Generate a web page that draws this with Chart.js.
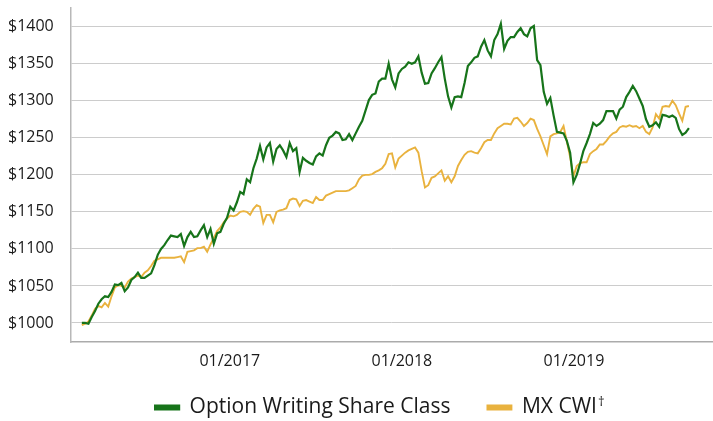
<!DOCTYPE html>
<html>
<head>
<meta charset="utf-8">
<script src="https://cdn.jsdelivr.net/npm/chart.js@4.4.0/dist/chart.umd.min.js"></script>
<style>
  html, body { margin: 0; padding: 0; background: #fff; }
  #wrap { width: 713px; height: 421px; }
</style>
</head>
<body>
<div id="wrap"><canvas id="chart"></canvas></div>
<script>
// weekly growth of $1000, first week and series values
const firstWeek = '2016-02-22';
const seriesNames = ['Option Writing Share Class', 'MX CWI'];
const seriesMarks = ['', '\u2020'];
const seriesColors = ['#17741a', '#e9b23e'];

const optionWriting = [
  1000, 1000, 999, 1008, 1016, 1026, 1032, 1036, 1035, 1042,
  1052, 1051, 1054, 1043, 1048, 1058, 1062, 1068, 1061, 1061,
  1064, 1067, 1078, 1092, 1100, 1105, 1112, 1118, 1117, 1116,
  1120, 1104, 1116, 1123, 1116, 1117, 1125, 1132, 1116, 1127,
  1107, 1121, 1123, 1134, 1142, 1157, 1152, 1163, 1177, 1174,
  1194, 1190, 1209, 1222, 1239, 1221, 1237, 1243, 1218, 1235,
  1240, 1233, 1224, 1243, 1232, 1236, 1204, 1223, 1219, 1216,
  1214, 1225, 1229, 1226, 1240, 1250, 1253, 1258, 1256, 1247,
  1248, 1255, 1247, 1256, 1265, 1273, 1287, 1301, 1308, 1310,
  1326, 1330, 1330, 1350, 1329, 1318, 1337, 1343, 1346, 1352,
  1350, 1352, 1360, 1338, 1323, 1324, 1337, 1344, 1352, 1359,
  1330, 1306, 1291, 1305, 1306, 1305, 1324, 1347, 1352, 1358,
  1360, 1373, 1382, 1368, 1360, 1382, 1390, 1404, 1370, 1381,
  1386, 1386, 1393, 1398, 1390, 1387, 1398, 1401, 1355, 1348,
  1312, 1296, 1304, 1280, 1258, 1257, 1256, 1246, 1230, 1190,
  1200, 1215, 1232, 1243, 1255, 1270, 1266, 1269, 1274, 1286,
  1286, 1286, 1276, 1288, 1292, 1305, 1312, 1320, 1313, 1303,
  1293, 1275, 1265, 1267, 1271, 1265, 1281, 1280, 1278, 1280,
  1277, 1262, 1254, 1257, 1263
];

const mxCwi = [
  997, 999, 1002, 1010, 1019, 1023, 1021, 1027, 1022, 1036,
  1048, 1051, 1050, 1048, 1056, 1060, 1062, 1064, 1062, 1068,
  1071, 1077, 1084, 1086, 1088, 1088, 1088, 1088, 1088, 1089,
  1090, 1082, 1096, 1097, 1098, 1101, 1101, 1103, 1096, 1106,
  1115, 1124, 1129, 1136, 1141, 1145, 1144, 1146, 1150, 1151,
  1150, 1146, 1154, 1159, 1157, 1135, 1146, 1146, 1136, 1150,
  1152, 1153, 1155, 1166, 1168, 1167, 1158, 1165, 1166, 1164,
  1162, 1170, 1166, 1166, 1172, 1174, 1176, 1178, 1178, 1178,
  1178, 1179, 1182, 1185, 1194, 1199, 1200, 1200, 1201, 1204,
  1206, 1209, 1215, 1228, 1229, 1210, 1222, 1226, 1230, 1233,
  1235, 1237, 1230, 1205, 1183, 1186, 1196, 1198, 1202, 1206,
  1192, 1198, 1190, 1198, 1212, 1220, 1227, 1231, 1232, 1230,
  1229, 1236, 1244, 1247, 1247, 1256, 1263, 1266, 1269, 1269,
  1268, 1276, 1277, 1272, 1266, 1270, 1276, 1274, 1262, 1252,
  1240, 1228, 1252, 1255, 1256, 1258, 1266, 1245, 1224, 1198,
  1212, 1216, 1217, 1217, 1228, 1232, 1235, 1241, 1241, 1246,
  1252, 1256, 1258, 1264, 1266, 1265, 1267, 1265, 1266, 1263,
  1266, 1258, 1255, 1264, 1282, 1276, 1292, 1293, 1292, 1300,
  1294, 1283, 1273, 1292, 1293
];

const yTicks = [1000, 1050, 1100, 1150, 1200, 1250, 1300, 1350, 1400];
const xTickDates = ['2017-01-01', '2018-01-01', '2019-01-01'];
const xTickLabels = ['01/2017', '01/2018', '01/2019'];

const DAY = 86400000;
const weekDates = optionWriting.map((v, i) => Date.parse(firstWeek) + i * 7 * DAY);
const toPoints = vals => vals.map((v, i) => ({ x: weekDates[i], y: v }));
const xTickValues = xTickDates.map(d => Date.parse(d));

const font = "'Open Sans', sans-serif";
const textColor = '#1a1a1a';

// nudge the legend to where it sits in the original
const legendNudge = {
  id: 'legendNudge',
  afterLayout(chart) {
    const lg = chart.legend;
    lg.left += 16; lg.right += 16;
    lg.top -= 12; lg.bottom -= 12;
  },
};

// superscript footnote marks after legend labels
const legendMarks = {
  id: 'legendMarks',
  afterDraw(chart) {
    const boxes = chart.legend.legendHitBoxes || [];
    const ctx = chart.ctx;
    ctx.save();
    ctx.font = "13px 'Open Sans', sans-serif";
    ctx.fillStyle = textColor;
    ctx.textBaseline = 'top';
    ctx.textAlign = 'left';
    boxes.forEach((b, i) => {
      if (seriesMarks[i]) ctx.fillText(seriesMarks[i], b.left + b.width + 1, b.top - 1);
    });
    ctx.restore();
  },
};

new Chart(document.getElementById('chart'), {
  type: 'line',
  data: {
    datasets: [optionWriting, mxCwi].map((vals, i) => ({
      label: seriesNames[i],
      data: toPoints(vals),
      borderColor: seriesColors[i],
      backgroundColor: seriesColors[i],
      borderWidth: i === 0 ? 2.2 : 1.9,
      pointRadius: 0,
      tension: 0,
    })),
  },
  plugins: [legendNudge, legendMarks],
  options: {
    responsive: true,
    maintainAspectRatio: false,
    animation: false,
    devicePixelRatio: 1,
    layout: { padding: { top: 7, right: 1, left: 8, bottom: -19 } },
    plugins: {
      tooltip: { enabled: false },
      legend: {
        position: 'bottom',
        labels: {
          boxWidth: 24,
          boxHeight: 4,
          padding: 37,
          color: textColor,
          font: { family: font, size: 21 },
        },
      },
    },
    scales: {
      x: {
        type: 'linear',
        min: Date.parse('2016-01-30'),
        max: Date.parse('2019-10-21'),
        afterBuildTicks: scale => {
          scale.ticks = xTickValues.map(v => ({ value: v }));
        },
        afterFit: scale => { scale.height = 30; },
        ticks: {
          color: textColor,
          font: { family: font, size: 16 },
          padding: 10,
          maxRotation: 0,
          autoSkip: false,
          callback: (v, idx) => xTickLabels[idx],
        },
        grid: { display: false, drawTicks: false },
        border: { color: '#ababab', width: 1.6 },
      },
      y: {
        min: 974.3,
        max: 1425.3,
        afterBuildTicks: scale => {
          scale.ticks = yTicks.map(v => ({ value: v }));
        },
        afterFit: scale => { scale.width = 63; },
        ticks: {
          color: textColor,
          font: { family: font, size: 16, lineHeight: 1 },
          padding: 0,
          crossAlign: 'far',
          callback: v => '$' + v,
        },
        grid: { color: '#cccccc', lineWidth: 1, drawTicks: false },
        border: { color: '#b8b8b8', width: 1.5 },
      },
    },
  },
});
</script>
</body>
</html>
